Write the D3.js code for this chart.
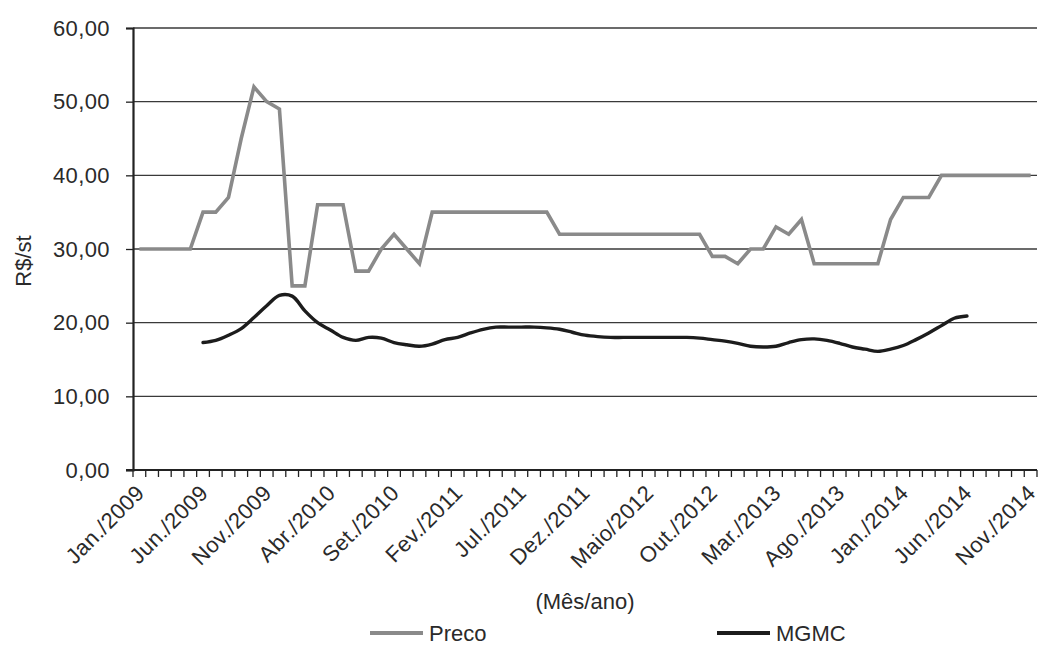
<!DOCTYPE html>
<html lang="pt">
<head>
<meta charset="utf-8">
<script src="https://cdn.jsdelivr.net/npm/d3@7"></script>
<style>
  html, body { margin: 0; padding: 0; background: #fff; }
  svg { display: block; font-family: "Liberation Sans", Arial, sans-serif; }
</style>
</head>
<body>
<svg id="chart" width="1039" height="645"></svg>
<script>
// Month abbreviations used on the category axis (Portuguese)
const monthNames = ["Jan.", "Fev.", "Mar.", "Abr.", "Maio", "Jun.", "Jul.", "Ago.", "Set.", "Out.", "Nov.", "Dez."];
const years = [2009, 2010, 2011, 2012, 2013, 2014];
const lastMonthIndex = 10; // Nov./2014

// Monthly categories, Jan./2009 to Nov./2014
const categories = [];
years.forEach(y => monthNames.forEach((m, k) => {
  if (y < 2014 || k <= lastMonthIndex) categories.push(m + "/" + y);
}));

// Labels shown on the x axis (every fifth month)
const tickLabels = ["Jan./2009", "Jun./2009", "Nov./2009", "Abr./2010", "Set./2010", "Fev./2011",
  "Jul./2011", "Dez./2011", "Maio/2012", "Out./2012", "Mar./2013", "Ago./2013",
  "Jan./2014", "Jun./2014", "Nov./2014"];

// Price series (R$/st)
const preco = [
  30, 30, 30, 30, 30, 35, 35, 37, 45, 52, 50, 49,
  25, 25, 36, 36, 36, 27, 27, 30, 32, 30, 28, 35,
  35, 35, 35, 35, 35, 35, 35, 35, 35, 32, 32, 32,
  32, 32, 32, 32, 32, 32, 32, 32, 32, 29, 29, 28,
  30, 30, 33, 32, 34, 28, 28, 28, 28, 28, 28, 34,
  37, 37, 37, 40, 40, 40, 40, 40, 40, 40, 40
];

// Moving average series (R$/st); null where not available
const mgmc = [
  null, null, null, null, null, 17.3, 17.6, 18.3, 19.2, 20.7, 22.3, 23.7,
  23.6, 21.6, 20.0, 19.0, 18.0, 17.6, 18.0, 17.9, 17.3, 17.0, 16.8, 17.1,
  17.7, 18.0, 18.6, 19.1, 19.4, 19.4, 19.4, 19.4, 19.3, 19.1, 18.7, 18.3,
  18.1, 18.0, 18.0, 18.0, 18.0, 18.0, 18.0, 18.0, 17.9, 17.7, 17.5, 17.2,
  16.8, 16.7, 16.8, 17.3, 17.7, 17.8, 17.6, 17.2, 16.7, 16.4, 16.1, 16.4,
  16.9, 17.7, 18.6, 19.6, 20.6, 20.9, null, null, null, null, null
];

const yTicks = [0, 10, 20, 30, 40, 50, 60];
const seriesNames = ["Preco", "MGMC"];

const plot = { left: 133, right: 1037, top: 28, bottom: 470 };
const fontSize = 22;
const textColor = "#2a2a2a";
const svg = d3.select("#chart");

const x = d3.scaleBand().domain(categories).range([plot.left, plot.right]).padding(0);
const xc = c => x(c) + x.bandwidth() / 2;
const y = d3.scaleLinear().domain([0, 60]).range([plot.bottom, plot.top]);

const fmt = v => d3.format(".2f")(v).replace(".", ",");

// Horizontal gridlines
svg.append("g").selectAll("line").data(yTicks.filter(v => v > 0)).join("line")
  .attr("x1", plot.left).attr("x2", plot.right)
  .attr("y1", d => y(d)).attr("y2", d => y(d))
  .attr("stroke", "#3a3a3a").attr("stroke-width", 1.3);

// Y axis
const yAxis = svg.append("g").attr("transform", `translate(${plot.left},0)`)
  .call(d3.axisLeft(y).tickValues(yTicks).tickFormat(fmt).tickSize(7).tickPadding(16));
yAxis.select(".domain").attr("stroke", "#222").attr("stroke-width", 2.2);
yAxis.selectAll(".tick line").attr("stroke", "#222").attr("stroke-width", 1.3);
yAxis.selectAll(".tick text").attr("font-size", fontSize).attr("fill", textColor)
  .attr("letter-spacing", 0.4)
  .style("font-family", "'Liberation Sans', Arial, sans-serif");

// X axis: ticks between categories
const xg = svg.append("g");
const boundaries = categories.map(c => x(c)).concat([plot.right]);
xg.selectAll("line.tk").data(boundaries).join("line").attr("class", "tk")
  .attr("x1", d => d).attr("x2", d => d)
  .attr("y1", plot.bottom).attr("y2", plot.bottom + 7)
  .attr("stroke", "#222").attr("stroke-width", 1.3);
xg.append("line")
  .attr("x1", plot.left - 7).attr("x2", plot.right)
  .attr("y1", plot.bottom).attr("y2", plot.bottom)
  .attr("stroke", "#222").attr("stroke-width", 2.2);

xg.selectAll("text").data(tickLabels).join("text")
  .attr("transform", d => `translate(${xc(d) + 1},${plot.bottom + 19}) rotate(-45)`)
  .attr("text-anchor", "end")
  .attr("dominant-baseline", "central")
  .attr("font-size", fontSize).attr("fill", textColor)
  .attr("letter-spacing", 0.4)
  .text(d => d);

// Axis titles
svg.append("text")
  .attr("transform", `translate(23,261) rotate(-90)`)
  .attr("text-anchor", "middle").attr("dominant-baseline", "central")
  .attr("font-size", fontSize).attr("fill", textColor).text("R$/st");

svg.append("text")
  .attr("x", 585).attr("y", 601)
  .attr("text-anchor", "middle").attr("dominant-baseline", "central")
  .attr("font-size", fontSize).attr("fill", textColor).text("(Mês/ano)");

// Series lines
const precoLine = d3.line()
  .x((d, i) => xc(categories[i]))
  .y(d => y(d));
svg.append("path").datum(preco)
  .attr("d", precoLine)
  .attr("fill", "none").attr("stroke", "#8a8a8a").attr("stroke-width", 3.6)
  .attr("stroke-linejoin", "miter");

const mgmcLine = d3.line()
  .defined(d => d != null)
  .x((d, i) => xc(categories[i]))
  .y(d => y(d))
  .curve(d3.curveCatmullRom.alpha(0.5));
svg.append("path").datum(mgmc)
  .attr("d", mgmcLine)
  .attr("fill", "none").attr("stroke", "#1c1c1c").attr("stroke-width", 3.4)
  .attr("stroke-linecap", "round");

// Legend
const legend = [
  { name: seriesNames[0], color: "#8a8a8a", x: 370 },
  { name: seriesNames[1], color: "#1c1c1c", x: 717 }
];
const lg = svg.append("g").selectAll("g").data(legend).join("g")
  .attr("transform", d => `translate(${d.x},633)`);
lg.append("line").attr("x1", 0).attr("x2", 53).attr("y1", 0).attr("y2", 0)
  .attr("stroke", d => d.color).attr("stroke-width", 4);
lg.append("text").attr("x", 59).attr("y", 7.5)
  .attr("font-size", fontSize).attr("fill", textColor)
  .text(d => d.name);
</script>
</body>
</html>
